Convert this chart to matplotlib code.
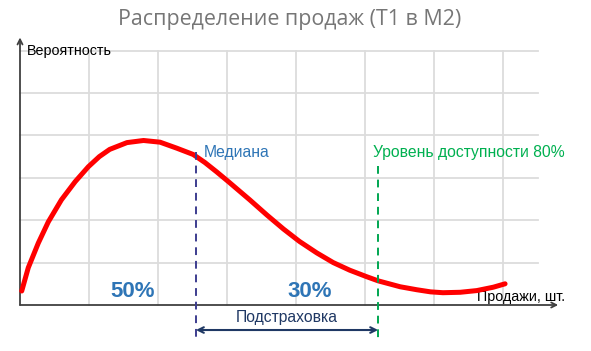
import matplotlib
matplotlib.use("Agg")
import matplotlib.pyplot as plt

# ---- data (grid units) ----
curve_x = [0.025, 0.12, 0.265, 0.41, 0.60, 0.80, 0.99, 1.15, 1.30, 1.55, 1.79, 2.03,
           2.27, 2.51, 2.68, 2.85, 3.02, 3.33, 3.58, 3.82, 4.05, 4.30, 4.54, 4.78,
           5.02, 5.19, 5.51, 5.75, 5.95, 6.13, 6.38, 6.62, 6.86, 7.03]
curve_y = [0.33, 0.88, 1.46, 1.96, 2.48, 2.91, 3.26, 3.50, 3.67, 3.83, 3.88, 3.84,
           3.70, 3.55, 3.36, 3.14, 2.91, 2.48, 2.12, 1.79, 1.50, 1.23, 1.00, 0.82,
           0.67, 0.57, 0.43, 0.36, 0.31, 0.29, 0.30, 0.34, 0.42, 0.50]
median_x = 2.55
service_x = 5.19
grid_x = [1, 2, 3, 4, 5, 6, 7]
grid_y = [1, 2, 3, 4, 5, 6]
share_labels = ["50%", "30%"]
share_x = [1.63, 4.20]

title = "Распределение продаж (Т1 в М2)"
ylabel = "Вероятность"
xlabel = "Продажи, шт."
median_label = "Медиана"
service_label = "Уровень доступности 80%"
buffer_label = "Подстраховка"

W, H = 591, 351
X0, Y0, SX, SY = 20.0, 305.0, 69.0, 42.4  # pixel origin and scale

fig = plt.figure(figsize=(W / 100, H / 100), dpi=100)
ax = fig.add_axes([0, 0, 1, 1])
ax.set_xlim(-X0 / SX, (W - X0) / SX)
ax.set_ylim((Y0 - H) / SY, Y0 / SY)
ax.axis("off")

grid_c = "#dcdcdc"
for gx in grid_x:
    ax.plot([gx, gx], [0, 6], color=grid_c, lw=1.3, zorder=1)
for gy in grid_y:
    ax.plot([0, 7.5], [gy, gy], color=grid_c, lw=1.3, zorder=1)

axis_c = "#404040"
ax.annotate("", xy=(0, 6.31), xytext=(0, 0),
            arrowprops=dict(arrowstyle="->", color=axis_c, lw=1.3, shrinkA=0, shrinkB=0,
                            mutation_scale=9), zorder=3)
ax.annotate("", xy=(7.8, 0), xytext=(0, 0),
            arrowprops=dict(arrowstyle="->", color=axis_c, lw=1.3, shrinkA=0, shrinkB=0,
                            mutation_scale=9), zorder=3)

ax.plot(curve_x, curve_y, color="#ff0000", lw=3.6, solid_capstyle="round",
        solid_joinstyle="round", zorder=4)

ax.plot([median_x, median_x], [3.6, -0.78], color="#3d3d8f", lw=1.4,
        linestyle=(0, (4, 3)), zorder=5)
ax.plot([service_x, service_x], [3.28, -0.78], color="#00a651", lw=1.4,
        linestyle=(0, (4, 3)), zorder=5)

ax.annotate("", xy=(service_x, -0.59), xytext=(median_x, -0.59),
            arrowprops=dict(arrowstyle="<->", color="#1f3864", lw=1.5, shrinkA=0, shrinkB=0,
                            mutation_scale=10), zorder=5)

lab_font = "Liberation Sans"
ax.text(median_x + 0.11, 3.6, median_label, color="#2e75b6", fontsize=11.3,
        family=lab_font, ha="left", va="center")
ax.text(service_x - 0.07, 3.6, service_label, color="#00b050", fontsize=11.3,
        family=lab_font, ha="left", va="center")
ax.text((median_x + service_x) / 2, -0.29, buffer_label, color="#1f3864", fontsize=11.3,
        family=lab_font, ha="center", va="center")
ax.text(0.1, 6.0, ylabel, color="black", fontsize=10.3, family=lab_font,
        ha="left", va="center")
ax.text(6.62, 0.2, xlabel, color="black", fontsize=10.3, family=lab_font,
        ha="left", va="center")
for lbl, sx in zip(share_labels, share_x):
    ax.text(sx, 0.33, lbl, color="#2e75b6", fontsize=16, fontweight="bold",
            family=lab_font, ha="center", va="center")

ax.text((290 - X0) / SX, (Y0 - 19) / SY, title, color="#767676", fontsize=15.4,
        family="Open Sans", ha="center", va="center")

fig.savefig("out.png", dpi=100)
